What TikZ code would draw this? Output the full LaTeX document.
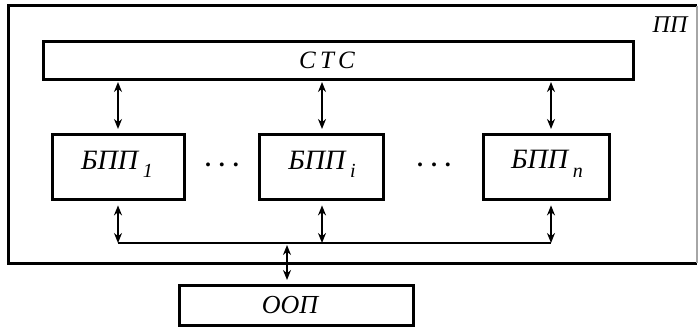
\documentclass[tikz,border=0pt]{standalone}
\usepackage{fontspec}
\setmainfont{Liberation Serif}
\usetikzlibrary{arrows.meta}
\begin{document}
\begin{tikzpicture}[x=0.5pt,y=-0.5pt,
  blk/.style={draw,line width=1.7pt,inner sep=0pt},
  lbl/.style={inner sep=0pt,font=\fontsize{12}{13}\selectfont\itshape},
  btxt/.style={inner sep=0pt,font=\fontsize{14}{15}\selectfont\itshape},
  link/.style={line width=1pt,{Stealth[length=5pt,width=4pt]}-{Stealth[length=5pt,width=4pt]},shorten <=2pt,shorten >=2pt},
  wire/.style={line width=1.2pt},
  dotsn/.style={inner sep=0pt,font=\fontsize{12}{13}\selectfont\bfseries}]
\useasboundingbox (0,0) rectangle (699,326);
% outer frame
\draw[wire,line width=1.5pt] (697,6) -- (8,6) -- (8,263) -- (697,263);
\draw[line width=0.6pt,black!35] (697,6) -- (697,263);
\node[lbl] (pp) at (670,25) {ПП};
% blocks
\node[blk,minimum width=295pt,minimum height=19pt,anchor=north west] (stc) at (42,40) {};
\node[lbl,font=\fontsize{12.5}{13}\selectfont\itshape] (stct) at (327,60) {С\,Т\,С};
\node[blk,minimum width=66pt,minimum height=32.5pt,anchor=north west] (b1) at (51,133) {};
\node[blk,minimum width=62pt,minimum height=32.5pt,anchor=north west] (bi) at (258,133) {};
\node[blk,minimum width=63pt,minimum height=32.5pt,anchor=north west] (bn) at (482,133) {};
\node[blk,minimum width=117pt,minimum height=20pt,anchor=north west] (oop) at (178,284) {};
\node[btxt] (b1t) at (117,164) {БПП\,\raisebox{-0.6ex}{\normalsize\itshape 1}};
\node[btxt] (bit) at (322,164) {БПП\,\raisebox{-0.6ex}{\normalsize\itshape i}};
\node[btxt] (bnt) at (547,164) {БПП\,\raisebox{-0.7ex}{\normalsize\itshape n}};
\node[btxt,font=\fontsize{13}{14}\selectfont\itshape] (oopt) at (290,305) {ООП};
\node[dotsn] (d1) at (222,165) {.\,\,.\,\,.};
\node[dotsn] (d2) at (434,165) {.\,\,.\,\,.};
% bus coordinates
\coordinate (c1) at (118,243);
\coordinate (ci) at (322,243);
\coordinate (cn) at (551,243);
\coordinate (co) at (287,243);
\coordinate (s1) at (118,78);
\coordinate (si) at (322,78);
\coordinate (sn) at (551,78);
% links to СТС
\draw[link] (s1) -- (s1 |- b1.north);
\draw[link] (si) -- (si |- bi.north);
\draw[link] (sn) -- (sn |- bn.north);
% links to bus
\draw[link,shorten >=0pt] (c1 |- b1.south) -- (c1);
\draw[link,shorten >=0pt] (ci |- bi.south) -- (ci);
\draw[link,shorten >=0pt] (cn |- bn.south) -- (cn);
\draw[wire] (c1) -- (cn);
\draw[link,shorten <=1pt] (co) -- (co |- oop.north);
\end{tikzpicture}
\end{document}
